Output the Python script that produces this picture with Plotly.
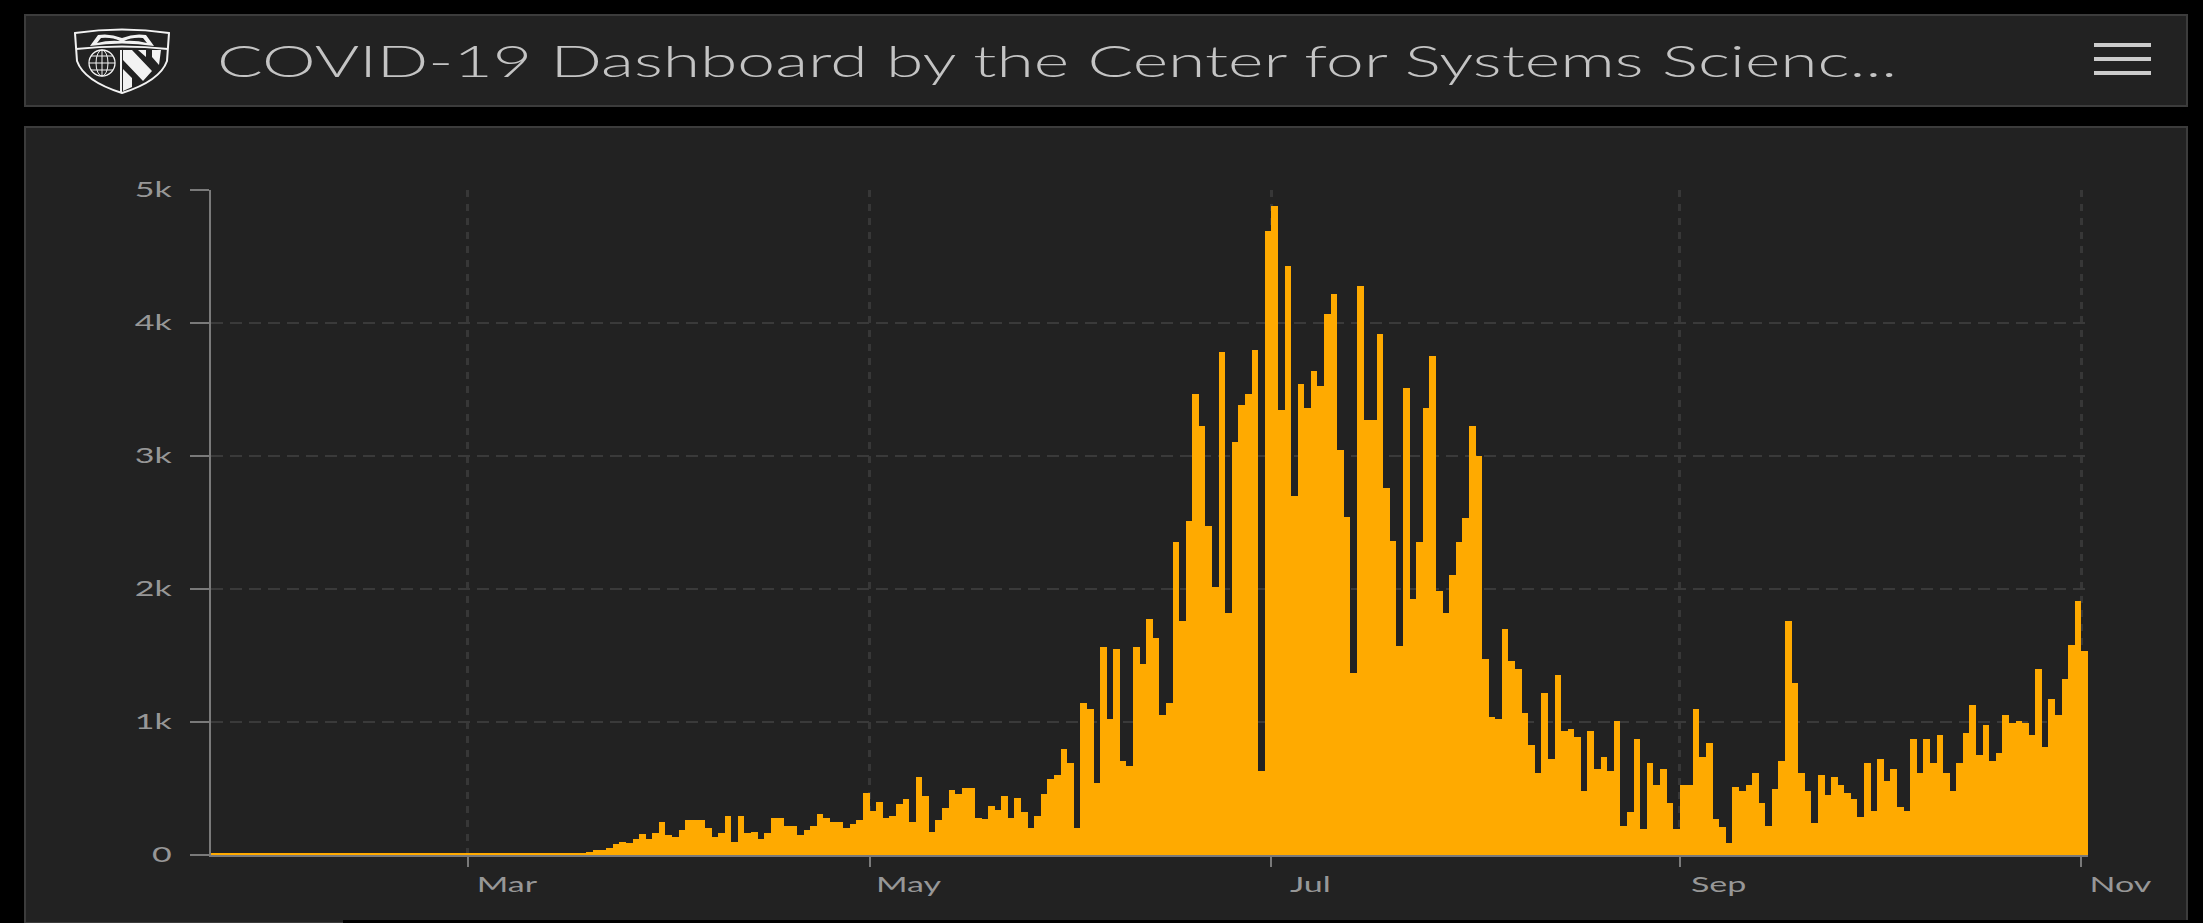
import base64
import pandas as pd
import plotly.graph_objects as go

START_DATE = "2020-01-22"
END_DATE = "2020-11-02"
TITLE = "COVID-19 Dashboard by the Center for Systems Scienc..."

winter_values = [
    9, 9, 9, 10, 9, 9, 10, 9, 9, 9, 10, 9, 9, 9, 10, 9, 9, 9, 9, 10,
    9, 9, 9, 10, 9, 9, 9, 10, 9, 9, 9, 9, 10, 9, 9, 9, 10, 9, 9, 10,
    9, 9, 9, 9, 10, 9, 9, 9, 10, 9, 9, 9, 9, 9, 9, 10, 10,
]
spring_values = [
    22, 36, 38, 55, 85, 100, 88, 118, 160, 118, 163, 250, 148, 133, 185, 265, 265, 265,
    205, 133, 163, 295, 100, 295, 163, 175, 118, 163, 280, 280, 220, 220, 148, 190, 220,
    310, 280, 250, 250, 205, 235, 265, 463, 328, 400, 280, 295, 385, 418, 250, 584, 446,
    175, 265, 355, 491, 461, 506, 506, 280, 268, 370, 340, 446, 280, 431, 326, 205, 295,
    461, 568, 599, 794, 689, 205, 1140, 1095, 539, 1562, 1023, 1547, 710, 670, 1562, 1437,
]
summer_values = [
    1772, 1628, 1054, 1141, 2350, 1759, 2514, 3464, 3226, 2471, 2017, 3783, 1820, 3105,
    3387, 3464, 3797, 628, 4690, 4881, 3347, 4428, 2696, 3542, 3360, 3642, 3528, 4069,
    4220, 3045, 2545, 1370, 4280, 3270, 3270, 3918, 2760, 2363, 1568, 3508, 1927, 2350,
    3360, 3753, 1987, 1823, 2108, 2350, 2531, 3226, 3001, 1474, 1037, 1024, 1697, 1458,
    1398, 1065, 827, 614, 1215,
]
autumn_values = [
    719, 1351, 932, 945, 885, 479, 930, 644, 734, 629, 1005, 220, 326, 870, 193, 689,
    524, 644, 388, 193, 524, 524, 1095, 734, 840, 268, 208, 88, 509, 479, 524, 614, 388,
    220, 494, 704, 1759, 1293, 614, 479, 238, 599, 449, 584, 524, 464, 418, 283, 689,
    328, 719, 554, 644, 358, 328, 870, 614, 870, 689, 900, 614, 479, 689, 915, 1125, 749,
    975, 704, 764, 1050, 990, 1005, 990, 900, 1396, 809, 1170, 1050, 1320, 1576, 1912, 1534,
]
daily_values = winter_values + spring_values + summer_values + autumn_values
dates = pd.date_range(START_DATE, periods=len(daily_values), freq="D")

W, H = 2203, 923
PANEL = "#222222"
EDGE = "#3c3c3c"
AXIS = "#7a7a7a"
LABEL = "#979797"
ORANGE = "#ffaa00"
FONT = "Lato"
DAY_MS = 86400000


def px(x):
    return x / W


def py(y):
    return 1 - y / H


def rect(x0, y0, x1, y1, fill, line=None, width=0):
    return dict(type="rect", xref="paper", yref="paper", layer="below",
                x0=px(x0), x1=px(x1), y0=py(y0), y1=py(y1), fillcolor=fill,
                line=dict(color=line or fill, width=width))


logo_svg = """<svg xmlns='http://www.w3.org/2000/svg' viewBox='0 0 130 90' width='130' height='90'>
<g fill='none' stroke='#f2f2f2' stroke-width='2'>
<path d='M15 18 Q62 11 109 18 L107 46 Q100 66 62 78 Q24 66 17 46 Z'/>
<path d='M16 34 Q62 29 108 34'/>
<path d='M61 35 V77'/>
<circle cx='42' cy='48' r='13' stroke-width='1.3'/>
<ellipse cx='42' cy='48' rx='6' ry='13' stroke-width='1'/>
<path d='M29 48 H55 M31 41 H53 M31 55 H53 M42 35 V61' stroke-width='1'/>
</g>
<path d='M30 31 L38 20 Q50 18 62 23 Q74 18 86 20 L94 31 Q62 26 30 31 Z' fill='#f2f2f2'/>
<path d='M37 28 L41 23 Q52 22 60 26 Q48 25 37 28 Z M87 28 L83 23 Q72 22 64 26 Q76 25 87 28 Z' fill='#222222'/>
<path d='M63 35 L72 35 L92 56 L83 66 L63 45 Z M78 35 L86 35 L86 42 Z M92 35 L101 35 L99 50 L92 42 Z M63 54 L72 63 L72 72 L63 76 Z' fill='#f2f2f2'/>
</svg>"""
logo_uri = "data:image/svg+xml;base64," + base64.b64encode(logo_svg.encode()).decode()

fig = go.Figure(
    go.Bar(x=dates, y=daily_values, width=DAY_MS, offset=0,
           marker=dict(color=ORANGE, line=dict(width=0)))
)

shapes = [
    rect(25, 15, 2187, 106, PANEL, EDGE, 2),
    rect(25, 127, 2187, 923, PANEL, EDGE, 2),
    rect(343, 920, 2203, 923, "#000000"),
    rect(2094, 43, 2151, 47, "#cccccc"),
    rect(2094, 57, 2151, 61, "#cccccc"),
    rect(2094, 71, 2151, 75, "#cccccc"),
]

fig.update_layout(
    width=W, height=H, margin=dict(l=0, r=0, t=0, b=0, pad=0), autosize=False,
    paper_bgcolor="#000000", plot_bgcolor="rgba(0,0,0,0)",
    showlegend=False, bargap=0, shapes=shapes,
    font=dict(family=FONT, size=21, color=LABEL),
    images=[dict(source=logo_uri, xref="paper", yref="paper", x=px(60), y=py(15),
                 sizex=px(130), sizey=90 / H, xanchor="left", yanchor="top",
                 sizing="stretch", layer="above")],
    annotations=[dict(text=TITLE, xref="paper", yref="paper", x=px(1057), y=py(60),
                      xanchor="center", yanchor="middle", showarrow=False,
                      font=dict(family=FONT, size=44, weight=300, color="#c4c4c4"))],
    xaxis=dict(
        type="date", domain=[px(211), px(2088)], range=[START_DATE, END_DATE],
        tick0="2020-03-01", dtick="M2", tickformat="%b", ticks="outside", ticklen=10,
        tickwidth=2, tickcolor=AXIS, showline=True, linecolor=AXIS, linewidth=2,
        showgrid=True, gridcolor="#373737", gridwidth=3, griddash="7px,7px", zeroline=False,
        ticklabelshift=39, ticklabelstandoff=0, layer="below traces", automargin=False,
        tickfont=dict(family=FONT, size=21, color=LABEL),
    ),
    yaxis=dict(
        domain=[py(855), py(190)], range=[0, 5000], tickvals=[0, 1000, 2000, 3000, 4000, 5000],
        ticktext=["0", "1k", "2k", "3k", "4k", "5k"], ticks="outside", ticklen=19,
        tickwidth=2, tickcolor=AXIS, showline=True, linecolor=AXIS, linewidth=2,
        showgrid=True, gridcolor="#3a3a3a", gridwidth=1.5, griddash="12px,7px", zeroline=False,
        ticklabelstandoff=14, layer="below traces", automargin=False,
        tickfont=dict(family=FONT, size=21, color=LABEL),
    ),
)

# The reference is a horizontally stretched screenshot, so the glyphs are stretched too.
post_script = """
document.documentElement.style.background = '#000';
document.body.style.margin = '0';
document.body.style.overflow = 'hidden';
var gd = document.getElementById('{plot_id}');
function stretch(selector, factor, total) {
  gd.querySelectorAll(selector).forEach(function (t) {
    var w = total || t.getComputedTextLength() * factor;
    t.setAttribute('textLength', w);
    t.setAttribute('lengthAdjust', 'spacingAndGlyphs');
  });
}
stretch('.xtick text', 1.62);
stretch('.ytick text', 1.62);
stretch('.annotation-text', 1, 1680);
"""

fig.write_html("out.html", post_script=post_script, config=dict(displayModeBar=False))
